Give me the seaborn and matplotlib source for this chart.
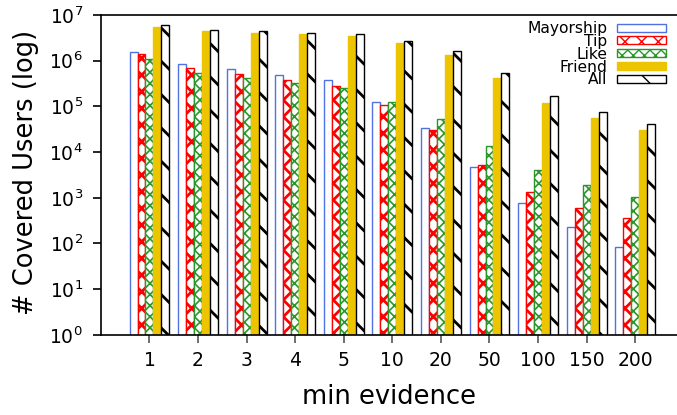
import matplotlib
matplotlib.use("Agg")
import matplotlib.pyplot as plt
import seaborn as sns
import pandas as pd
import numpy as np
from matplotlib.patches import Patch

categories = ["1", "2", "3", "4", "5", "10", "20", "50", "100", "150", "200"]
series_names = ["Mayorship", "Tip", "Like", "Friend", "All"]
mayorship = [1.58e6, 8.5e5, 6.5e5, 4.8e5, 3.8e5, 1.27e5, 3.4e4, 4.8e3, 7.5e2, 2.3e2, 83]
tip = [1.38e6, 6.8e5, 5.0e5, 3.7e5, 2.8e5, 1.06e5, 3.1e4, 5.2e3, 1.32e3, 5.9e2, 3.6e2]
like = [1.1e6, 5.5e5, 4.1e5, 3.2e5, 2.5e5, 1.23e5, 5.3e4, 1.36e4, 4.0e3, 1.88e3, 1.03e3]
friend = [5.56e6, 4.4e6, 4.1e6, 3.85e6, 3.5e6, 2.45e6, 1.35e6, 4.2e5, 1.2e5, 5.6e4, 3.1e4]
all_users = [5.9e6, 4.6e6, 4.4e6, 4.1e6, 3.8e6, 2.75e6, 1.63e6, 5.4e5, 1.66e5, 7.4e4, 4.1e4]

series_values = [mayorship, tip, like, friend, all_users]

rows = []
for name, vals in zip(series_names, series_values):
    for c, v in zip(categories, vals):
        rows.append({"min evidence": c, "users": v, "series": name})
df = pd.DataFrame(rows)

styles = {
    "Mayorship": dict(facecolor="white", edgecolor="#4f72e0", hatch=None, hlw=1.0),
    "Tip": dict(facecolor="white", edgecolor="#ff0000", hatch="xx", hlw=2.0),
    "Like": dict(facecolor="white", edgecolor="#2a962a", hatch="xxx", hlw=1.2),
    "Friend": dict(facecolor="#ecc400", edgecolor="#ecc400", hatch=None, hlw=1.0),
    "All": dict(facecolor="white", edgecolor="black", hatch="\\", hlw=2.0),
}

sns.set_style("ticks")
plt.rcParams["font.family"] = ["DejaVu Sans"]
plt.rcParams["text.color"] = "black"
plt.rcParams["axes.labelcolor"] = "black"
plt.rcParams["xtick.color"] = "black"
plt.rcParams["ytick.color"] = "black"

fig = plt.figure(figsize=(6.77, 4.15), dpi=100)
ax = fig.add_axes([0.149, 0.193, 0.851, 0.771])

sns.barplot(data=df, x="min evidence", y="users", hue="series", order=categories,
            hue_order=series_names, width=0.82, dodge=True, ax=ax, legend=False,
            saturation=1, errorbar=None, log_scale=(False, True))

for cont, name in zip(ax.containers, series_names):
    st = styles[name]
    for bar in cont:
        bar.set_facecolor(st["facecolor"])
        bar.set_edgecolor(st["edgecolor"])
        bar.set_linewidth(1.0)
        if st["hatch"]:
            bar.set_hatch(st["hatch"])
            try:
                bar.set_hatch_linewidth(st["hlw"])
            except Exception:
                pass

ax.set_yscale("log")
ax.set_ylim(1, 1e7)
ax.set_xlim(-1, 10.86)
ax.minorticks_off()
ax.yaxis.set_minor_locator(matplotlib.ticker.NullLocator())
ax.set_yticks([10**i for i in range(8)])

ax.tick_params(axis="both", labelsize=13.5, length=6, width=1.2, labelcolor="black")
ax.tick_params(axis="x", color="#555555", pad=5.5)
ax.tick_params(axis="y", color="black", pad=7)
ax.set_xlabel("min evidence", fontsize=18.5, color="black")
ax.set_ylabel("# Covered Users (log)", fontsize=18.5, color="black")
ax.xaxis.set_label_coords(0.5, -0.155)
ax.yaxis.set_label_coords(-0.108, 0.508)

for s in ["left", "bottom", "top"]:
    ax.spines[s].set_visible(True)
    ax.spines[s].set_color("black")
    ax.spines[s].set_linewidth(1.2)
ax.spines["right"].set_visible(False)

handles = []
for name in series_names:
    st = styles[name]
    p = Patch(facecolor=st["facecolor"], edgecolor=st["edgecolor"],
              hatch=st["hatch"], linewidth=1.0, label=name)
    try:
        p.set_hatch_linewidth(st["hlw"])
    except Exception:
        pass
    handles.append(p)

leg = ax.legend(handles=handles, loc="upper right", bbox_to_anchor=(0.991, 1.0),
                frameon=False, markerfirst=False, fontsize=11.2, handlelength=3.1,
                handleheight=0.4, labelspacing=-0.14, handletextpad=0.64, borderaxespad=0)
for t in leg.get_texts():
    t.set_color("black")

fig.savefig("out.png", dpi=100)
